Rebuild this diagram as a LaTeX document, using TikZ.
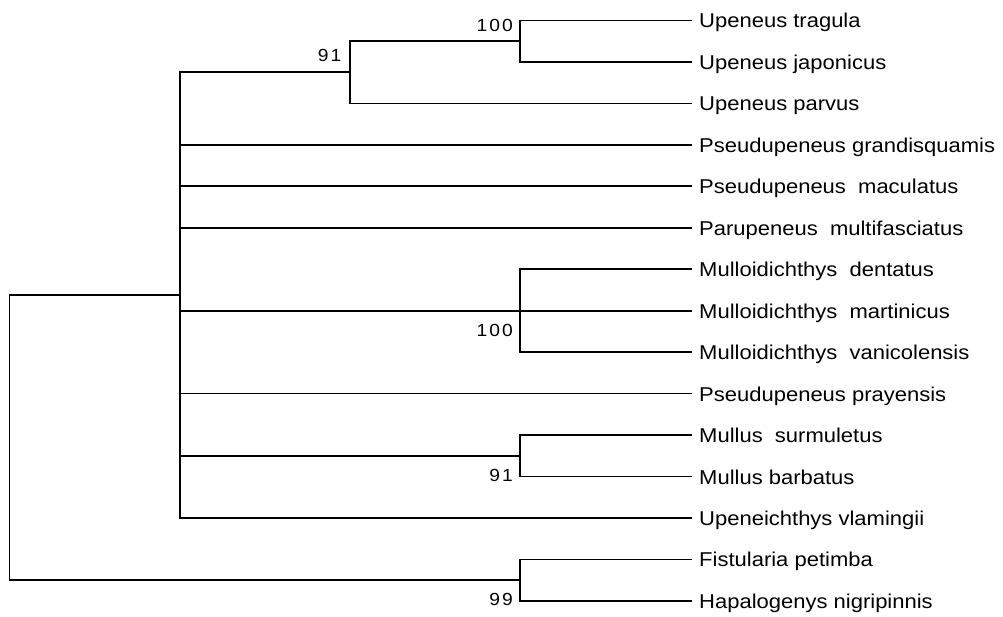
\documentclass[tikz,border=0pt]{standalone}
\usepackage{fontspec}
\setmainfont[FakeStretch=1.1]{Liberation Sans}
\newfontfamily\bsfont[FakeStretch=1.1]{Liberation Sans}
\tikzset{
  leaf/.style={anchor=west, inner xsep=7pt, inner ysep=0pt, text height=15pt, text depth=0pt,
    font=\fontsize{20}{24}\selectfont},
  branch/.style={line width=1.7pt, black},
  boot/.style={anchor=base east, inner sep=0pt, font=\bsfont\fontsize{17.5}{20}\selectfont}
}
\newcommand{\dgsp}{\kern2pt}
\begin{document}
\begin{tikzpicture}[x=1pt,y=-1pt]
\useasboundingbox (0,0) rectangle (1003,617);
% leaves
\node[leaf] (l1)  at (692,20.5)  {Upeneus tragula};
\node[leaf] (l2)  at (692,62.0)  {Upeneus japonicus};
\node[leaf] (l3)  at (692,103.4) {Upeneus parvus};
\node[leaf] (l4)  at (692,144.9) {Pseudupeneus grandisquamis};
\node[leaf] (l5)  at (692,186.3) {Pseudupeneus\ \ maculatus};
\node[leaf] (l6)  at (692,227.8) {Parupeneus\ \ multifasciatus};
\node[leaf] (l7)  at (692,269.2) {Mulloidichthys\ \ dentatus};
\node[leaf] (l8)  at (692,310.7) {Mulloidichthys\ \ martinicus};
\node[leaf] (l9)  at (692,352.1) {Mulloidichthys\ \ vanicolensis};
\node[leaf] (l10) at (692,393.6) {Pseudupeneus prayensis};
\node[leaf] (l11) at (692,435.0) {Mullus\ \ surmuletus};
\node[leaf] (l12) at (692,476.5) {Mullus barbatus};
\node[leaf] (l13) at (692,517.9) {Upeneichthys vlamingii};
\node[leaf] (l14) at (692,559.4) {Fistularia petimba};
\node[leaf] (l15) at (692,600.8) {Hapalogenys nigripinnis};
% internal nodes
\coordinate (nA)   at (520,41.25);
\coordinate (nB)   at (350,72.3);
\coordinate (nMul) at (520,310.7);
\coordinate (nMs)  at (520,455.75);
\coordinate (nIn)  at (180,295.3);
\coordinate (nOut) at (520,580.1);
\coordinate (root) at (9.5,437.7);
% branches
\draw[branch] (nA) |- (l1.west);
\draw[branch] (nA) |- (l2.west);
\draw[branch] (nB) |- (nA);
\draw[branch] (nB) |- (l3.west);
\draw[branch] (nMul) |- (l7.west);
\draw[branch] (nMul) |- (l8.west);
\draw[branch] (nMul) |- (l9.west);
\draw[branch] (nMs) |- (l11.west);
\draw[branch] (nMs) |- (l12.west);
\draw[branch] (nIn) |- (nB);
\draw[branch] (nIn) |- (l4.west);
\draw[branch] (nIn) |- (l5.west);
\draw[branch] (nIn) |- (l6.west);
\draw[branch] (nIn) |- (nMul);
\draw[branch] (nIn) |- (l10.west);
\draw[branch] (nIn) |- (nMs);
\draw[branch] (nIn) |- (l13.west);
\draw[branch] (nOut) |- (l14.west);
\draw[branch] (nOut) |- (l15.west);
\draw[branch] (root) |- (nIn);
\draw[branch] (root) |- (nOut);
% bootstrap values
\node[boot] (bA)   at ([shift={(-7,-9.5)}]nA)    {1\dgsp0\dgsp0};
\node[boot] (bB)   at ([shift={(-8.5,-10.6)}]nB) {9\dgsp1};
\node[boot] (bMul) at ([shift={(-7,25.3)}]nMul)  {1\dgsp0\dgsp0};
\node[boot] (bMs)  at ([shift={(-7,25.3)}]nMs)   {9\dgsp1};
\node[boot] (bOut) at ([shift={(-7,25)}]nOut)    {9\dgsp9};
\end{tikzpicture}
\end{document}
